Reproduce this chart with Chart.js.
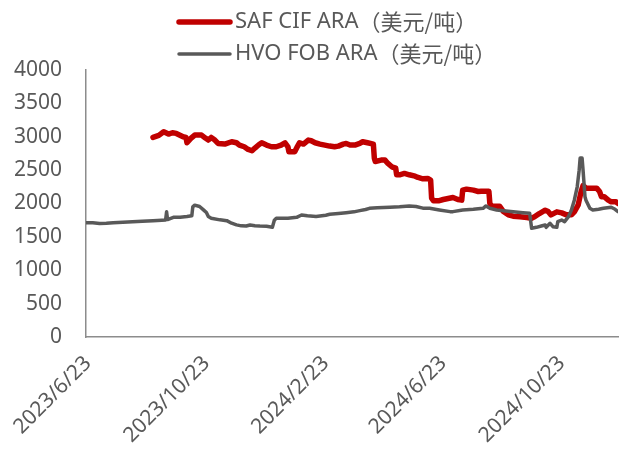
<!DOCTYPE html>
<html>
<head>
<meta charset="utf-8">
<script src="https://cdn.jsdelivr.net/npm/chart.js@4/dist/chart.umd.min.js"></script>
<style>
html,body{margin:0;padding:0;background:#fff;}
#wrap{width:625px;height:450px;}
</style>
</head>
<body>
<div id="wrap"><canvas id="c" width="625" height="450"></canvas></div>
<script>
// x values: days since 2023/6/23
const seriesNames = ["SAF CIF ARA（美元/吨）", "HVO FOB ARA（美元/吨）"];
const tickDays = [0, 122, 245, 366, 488];
const tickLabels = ["2023/6/23", "2023/10/23", "2024/2/23", "2024/6/23", "2024/10/23"];
const yTicks = [0, 500, 1000, 1500, 2000, 2500, 3000, 3500, 4000];

const safDays = [69,75,80,85,89,93,100,103,104,108,112,119,123,126,129,132,136,143,150,155,158,163,167,171,174,178,181,186,191,196,201,205,208,209,215,218,220,224,229,232,236,241,246,251,256,260,265,268,272,277,282,285,290,296,297,298,304,308,311,315,319,320,323,328,333,339,342,347,352,355,356,358,363,368,373,378,383,387,388,392,399,404,407,415,416,418,426,430,435,440,447,454,459,462,467,473,476,479,485,490,495,500,503,507,510,512,515,526,529,531,534,538,541,546,548];
const safValues = [2990,3020,3075,3040,3060,3050,3000,2990,2910,2975,3025,3025,2980,2950,2990,2960,2900,2890,2925,2910,2875,2850,2810,2790,2830,2880,2910,2875,2850,2850,2875,2910,2850,2775,2775,2860,2910,2890,2950,2940,2910,2890,2875,2860,2850,2860,2890,2900,2875,2875,2900,2925,2910,2890,2680,2630,2650,2650,2600,2550,2530,2430,2430,2450,2430,2410,2390,2370,2375,2350,2080,2040,2040,2060,2075,2090,2060,2050,2200,2215,2200,2180,2185,2185,2000,1960,1960,1880,1830,1810,1800,1790,1780,1800,1850,1900,1880,1830,1875,1860,1830,1830,1875,1980,2180,2270,2230,2230,2180,2100,2100,2050,2025,2025,2000];

const hvoDays = [0,7,14,21,28,38,48,58,69,78,82,83,84,90,97,104,109,110,112,117,121,124,126,129,138,145,150,155,160,165,169,174,179,186,192,194,196,208,217,222,228,237,247,251,260,268,276,282,288,292,300,313,323,333,340,347,354,364,375,378,388,399,409,412,416,423,430,440,450,457,459,464,469,473,474,478,481,485,486,490,493,497,500,503,506,508,509,511,512,514,515,519,522,528,533,541,545,548];
const hvoValues = [1710,1710,1700,1705,1713,1720,1728,1735,1743,1750,1753,1875,1760,1793,1795,1805,1815,1950,1975,1955,1905,1865,1805,1780,1755,1743,1705,1680,1665,1663,1678,1668,1663,1660,1645,1750,1778,1778,1793,1828,1815,1805,1825,1838,1850,1863,1875,1893,1910,1928,1935,1943,1950,1963,1955,1930,1928,1903,1878,1878,1903,1913,1928,1963,1928,1903,1893,1878,1863,1853,1628,1643,1663,1678,1643,1703,1653,1643,1728,1753,1728,1803,1903,2050,2250,2500,2680,2680,2500,2100,2050,1928,1903,1915,1928,1943,1913,1878];

const colors = ["#C00000", "#595959"];
const widths = [5.5, 3.5];

const FONT = "'Noto Sans', 'Noto Sans CJK SC', sans-serif";
const CJK = "'Noto Sans CJK SC', sans-serif";
const TEXT = "#595959";

const legendPlugin = {
  id: 'customLegend',
  afterDraw(chart) {
    const ctx = chart.ctx;
    const rows = [22, 54];
    ctx.save();
    chart.data.datasets.forEach((ds, i) => {
      const y = rows[i];
      ctx.beginPath();
      ctx.strokeStyle = ds.borderColor;
      ctx.lineWidth = ds.borderWidth;
      ctx.lineCap = 'round';
      ctx.moveTo(179, y);
      ctx.lineTo(230, y);
      ctx.stroke();
      const name = seriesNames[i];
      const cut = name.indexOf('（');
      const latin = name.slice(0, cut), unit = name.slice(cut);
      ctx.fillStyle = TEXT;
      ctx.textBaseline = 'middle';
      ctx.textAlign = 'left';
      ctx.font = "22px " + FONT;
      ctx.fillText(latin, 235, y);
      const w = ctx.measureText(latin).width;
      ctx.font = "22px " + CJK;
      ctx.fillText(unit, 235 + w, y);
    });
    ctx.restore();
  }
};

const toPts = (xs, ys) => xs.map((x, i) => ({x: x, y: ys[i]}));

new Chart(document.getElementById('c'), {
  type: 'line',
  data: {
    datasets: [
      {label: seriesNames[0], data: toPts(safDays, safValues), borderColor: colors[0], borderWidth: widths[0], pointRadius: 0, tension: 0, order: 1, borderJoinStyle: 'round', borderCapStyle: 'round'},
      {label: seriesNames[1], data: toPts(hvoDays, hvoValues), borderColor: colors[1], borderWidth: widths[1], pointRadius: 0, tension: 0, order: 0, borderJoinStyle: 'round', borderCapStyle: 'round'}
    ]
  },
  options: {
    responsive: false,
    animation: false,
    devicePixelRatio: 1,
    layout: {padding: {top: 70, right: 7, bottom: 0, left: 0}},
    plugins: {legend: {display: false}, tooltip: {enabled: false}},
    scales: {
      x: {
        type: 'linear',
        min: 0, max: 548,
        grid: {display: false, drawTicks: false},
        border: {display: true, color: '#8c8c8c', width: 1.5},
        afterBuildTicks: (s) => { s.ticks = tickDays.map(v => ({value: v})); },
        afterFit: (s) => { s.height = 113; s.paddingLeft = 0; s.paddingRight = 0; },
        ticks: {
          autoSkip: false, minRotation: 45, maxRotation: 45, padding: 14, labelOffset: 2,
          color: TEXT, font: {family: FONT, size: 21},
          callback: (v) => { const k = tickDays.indexOf(v); return k >= 0 ? tickLabels[k] : ''; }
        }
      },
      y: {
        min: 0, max: 4000,
        grid: {display: false, drawTicks: false},
        border: {display: true, color: '#8c8c8c', width: 1.5},
        afterBuildTicks: (s) => { s.ticks = yTicks.map(v => ({value: v})); },
        afterFit: (s) => { s.width = 86; },
        ticks: {padding: 24, color: TEXT, font: {family: FONT, size: 21}, callback: (v) => String(v)}
      }
    }
  },
  plugins: [legendPlugin]
});
</script>
</body>
</html>
